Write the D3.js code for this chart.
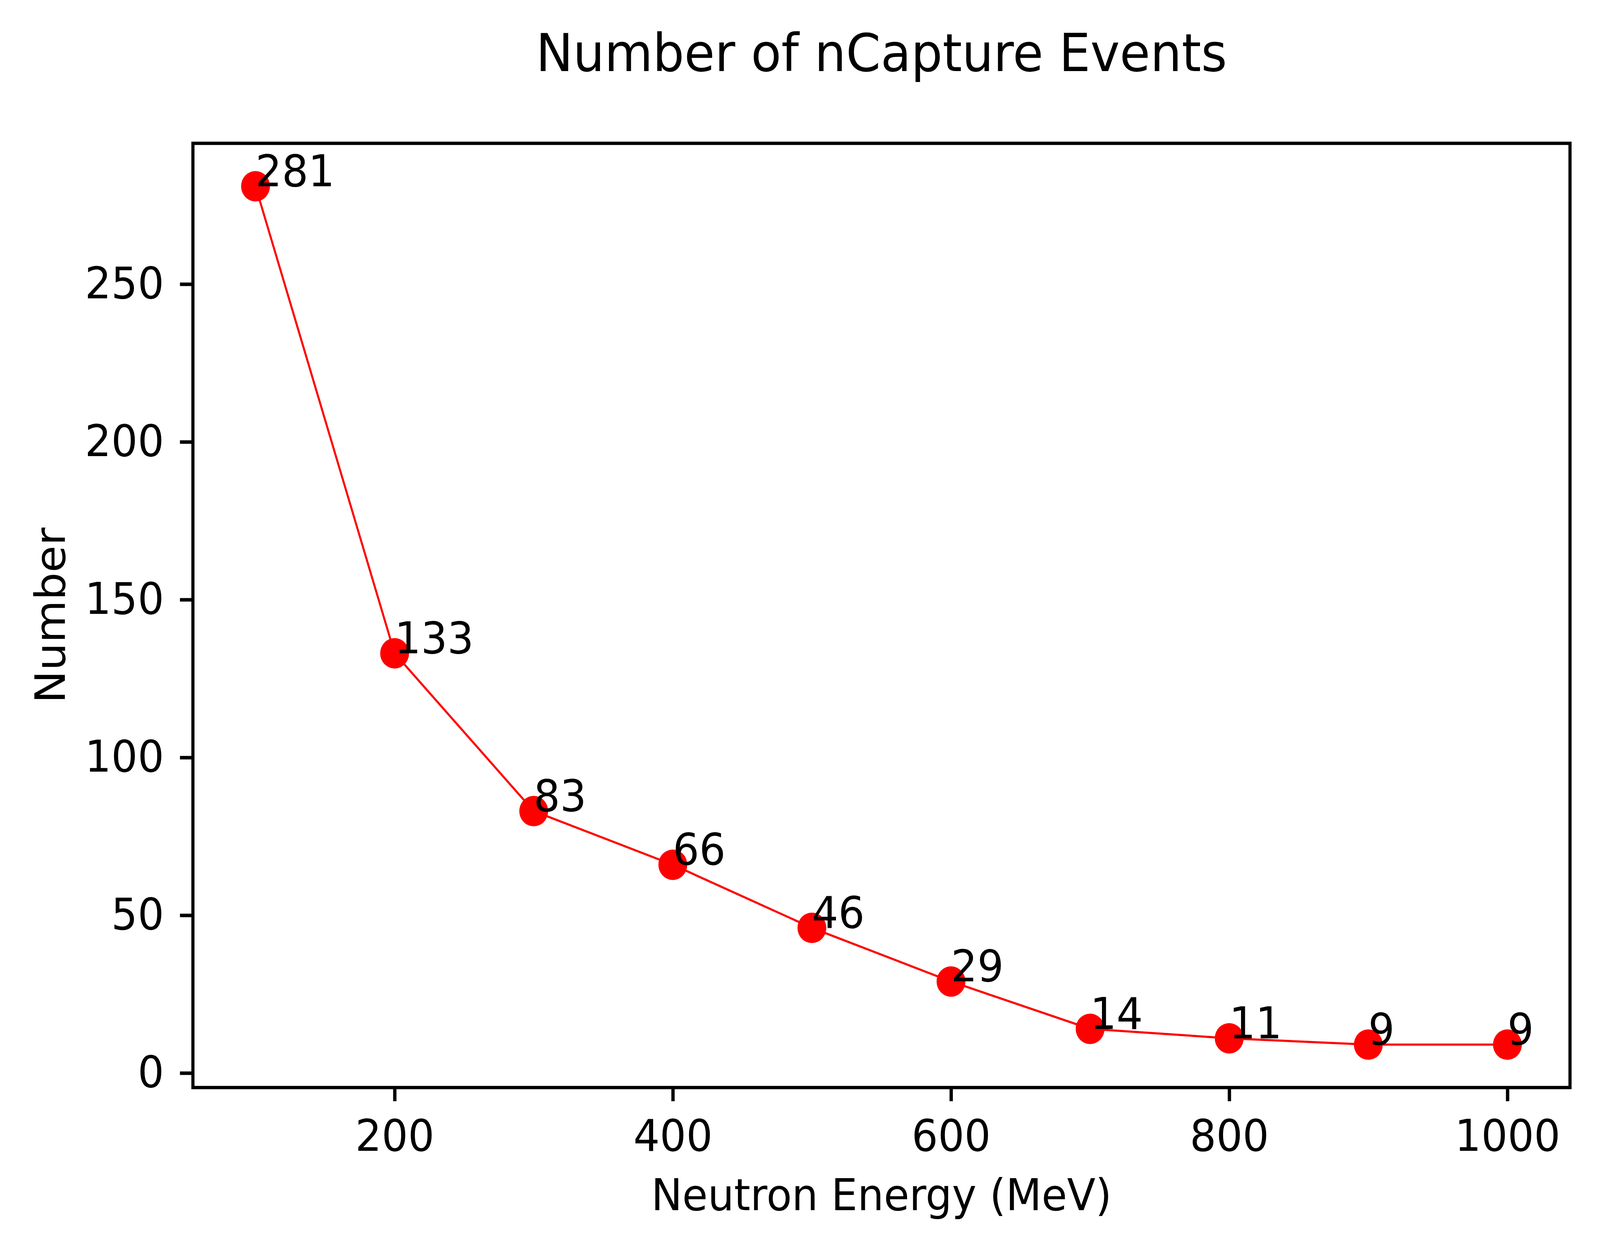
<html lang="en">
<head>
  <title>Number of nCapture Events</title>
  <meta charset="utf-8">
  <script src="https://cdn.jsdelivr.net/npm/d3@7"></script>
<style>
html, body {
  margin: 0;
  padding: 0;
  background: white;
  overflow: hidden;
}
svg {
  display: block;
}
svg text {
  font-family: "DejaVu Sans", sans-serif;
  fill: black;
}
</style>
</head>
<body>

<div id="chart"></div>

<script>

// data
var energies = [100, 200, 300, 400, 500, 600, 700, 800, 900, 1000];
var counts = [281, 133, 83, 66, 46, 29, 14, 11, 9, 9];

var xTicks = [200, 400, 600, 800, 1000];
var yTicks = [0, 50, 100, 150, 200, 250];

var titleText = 'Number of nCapture Events';
var xLabel = 'Neutron Energy (MeV)';
var yLabel = 'Number';

var width = 4321, height = 3201;
// plot box (window.top is reserved, so prefixed names)
var boxLeft = 521, boxRight = 4240, boxTop = 367, boxBottom = 2785;

// drawn in a 4321x3201 frame, stretched to whatever the window gives
var svg = d3.select('#chart').append('svg')
  .attr('viewBox', '0 0 ' + width + ' ' + height)
  .attr('preserveAspectRatio', 'none')
  .style('width', '100vw')
  .style('height', '100vh');

svg.append('rect')
  .attr('width', width)
  .attr('height', height)
  .attr('fill', 'white');

// matplotlib style 5% margins on both axes
var xExt = d3.extent(energies), yExt = d3.extent(counts);
var xPad = (xExt[1] - xExt[0]) * 0.05, yPad = (yExt[1] - yExt[0]) * 0.05;

var x = d3.scaleLinear()
  .domain([xExt[0] - xPad, xExt[1] + xPad])
  .range([boxLeft, boxRight]);

var y = d3.scaleLinear()
  .domain([yExt[0] - yPad, yExt[1] + yPad])
  .range([boxBottom, boxTop]);

// axes
var xAxis = d3.axisBottom(x).tickValues(xTicks).tickSize(35).tickPadding(47).tickFormat(d3.format('d'));
var yAxis = d3.axisLeft(y).tickValues(yTicks).tickSize(35).tickPadding(43).tickFormat(d3.format('d'));

var gx = svg.append('g').attr('transform', 'translate(0,' + boxBottom + ')').call(xAxis);
var gy = svg.append('g').attr('transform', 'translate(' + boxLeft + ',0)').call(yAxis);

[gx, gy].forEach(function(g){
  g.select('.domain').remove();
  g.selectAll('line').attr('stroke', 'black').attr('stroke-width', 9);
  g.selectAll('text')
    .style('font-family', '"DejaVu Sans", sans-serif')
    .style('font-size', '112px')
    .attr('fill', 'black');
});

// the line and the markers
var line = d3.line()
  .x(function(d, i){ return x(energies[i]); })
  .y(function(d){ return y(d); });

svg.append('path')
  .datum(counts)
  .attr('d', line)
  .attr('fill', 'none')
  .attr('stroke', '#ff0000')
  .attr('stroke-width', 5.5);

svg.selectAll('circle.pt')
  .data(counts)
  .enter().append('circle')
  .attr('class', 'pt')
  .attr('cx', function(d, i){ return x(energies[i]); })
  .attr('cy', function(d){ return y(d); })
  .attr('r', 39)
  .attr('fill', '#ff0000');

// value labels next to each point
svg.selectAll('text.note')
  .data(counts)
  .enter().append('text')
  .attr('class', 'note')
  .attr('x', function(d, i){ return x(energies[i]); })
  .attr('y', function(d){ return y(d); })
  .style('font-size', '112px')
  .text(function(d){ return d; });

// frame
svg.append('rect')
  .attr('x', boxLeft)
  .attr('y', boxTop)
  .attr('width', boxRight - boxLeft)
  .attr('height', boxBottom - boxTop)
  .attr('fill', 'none')
  .attr('stroke', 'black')
  .attr('stroke-width', 8.5);

// titles
svg.append('text')
  .attr('x', (boxLeft + boxRight) / 2)
  .attr('y', 182)
  .attr('text-anchor', 'middle')
  .style('font-size', '134px')
  .text(titleText);

svg.append('text')
  .attr('x', (boxLeft + boxRight) / 2)
  .attr('y', 3099)
  .attr('text-anchor', 'middle')
  .style('font-size', '112px')
  .text(xLabel);

svg.append('text')
  .attr('transform', 'translate(175,' + (boxTop + boxBottom) / 2 + ') rotate(-90)')
  .attr('text-anchor', 'middle')
  .style('font-size', '112px')
  .text(yLabel);

</script>
</body>
</html>
